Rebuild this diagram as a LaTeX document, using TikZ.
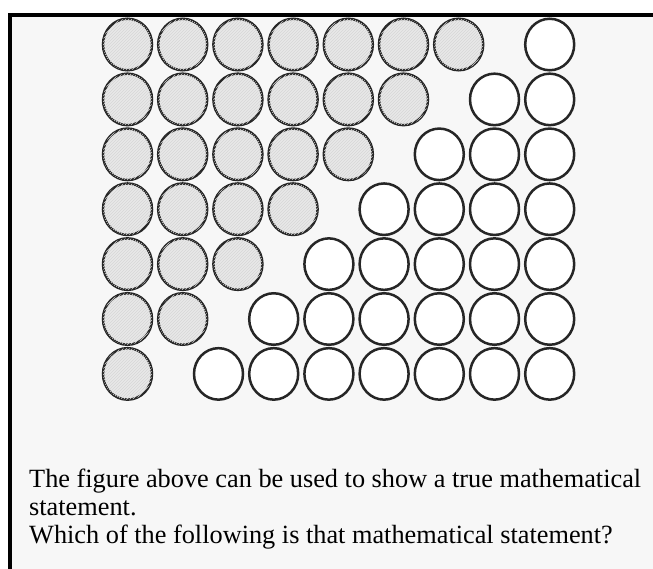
\documentclass[tikz,border=0pt]{standalone}
\usepackage{fontspec}
\setmainfont{Liberation Serif}
\usetikzlibrary{positioning,patterns,shapes.geometric}

\tikzset{
  dot/.style={ellipse,draw=black!85,line width=2.5pt,minimum width=49pt,minimum height=51.5pt,inner sep=0pt},
  shaded/.style={dot,fill=black!9,postaction={pattern=north east lines,pattern color=black!16}},
  blank/.style={dot,fill=white},
  question/.style={anchor=base west,inner sep=0pt,align=left,font=\fontsize{26.3}{28}\selectfont}
}

\begin{document}
\begin{tikzpicture}[x=1pt,y=-1pt]
\useasboundingbox (0,0) rectangle (653,568);
\clip (0,0) rectangle (653,568);
\fill[white] (0,0) rectangle (653,568);
\draw[line width=3.5pt,fill=black!3] (10,15) rectangle (680,600);

% rows of dots: shaded on the left, blank on the right
\foreach \r in {0,...,6}{
  \pgfmathtruncatemacro\ng{6-\r}
  \foreach \i in {0,...,\ng}
    \node[shaded] (g-\r-\i) at ({127.5+55.2*\i},{44.5+54.9*\r}) {};
  \foreach \j in {0,...,\r}
    \node[blank] (w-\r-\j) at ({549.7-55.2*\j},{44.5+54.9*\r}) {};
}

\node[question] (q) at (29,543) {The figure above can be used to show a true mathematical\\
statement.\\
Which of the following is that mathematical statement?};

\end{tikzpicture}
\end{document}
